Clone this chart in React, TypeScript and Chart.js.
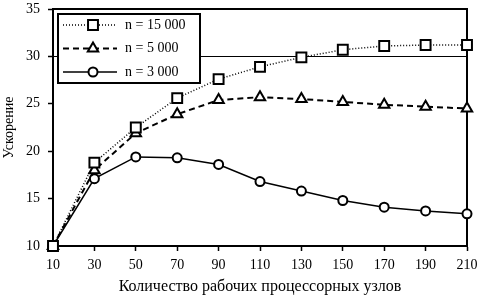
import React, { useEffect, useRef } from "react";
import { Chart, registerables } from "chart.js";

Chart.register(...registerables);

const categories = [10, 30, 50, 70, 90, 110, 130, 150, 170, 190, 210];
const series15000 = [10, 18.8, 22.5, 25.6, 27.6, 28.9, 29.9, 30.7, 31.1, 31.2, 31.2];
const series5000 = [10, 18.0, 21.9, 23.9, 25.4, 25.7, 25.5, 25.2, 24.9, 24.7, 24.5];
const series3000 = [10, 17.1, 19.4, 19.3, 18.6, 16.8, 15.8, 14.8, 14.1, 13.7, 13.4];
const seriesLabels = ["n = 15 000", "n = 5 000", "n = 3 000"];
const yTicks = [10, 15, 20, 25, 30, 35];
const xTitle = "Количество рабочих процессорных узлов";
const yTitle = "Ускорение";

const FONT = "'Liberation Serif', serif";

function drawMarker(ctx: CanvasRenderingContext2D, style: string, r: number, x: number, y: number) {
  ctx.beginPath();
  if (style === "rect") {
    const s = Math.SQRT1_2 * r;
    ctx.rect(x - s, y - s, 2 * s, 2 * s);
  } else if (style === "triangle") {
    const h = r * 1.5;
    const w = r * Math.sqrt(3) / 2;
    ctx.moveTo(x, y - r);
    ctx.lineTo(x + w, y + r / 2);
    ctx.lineTo(x - w, y + r / 2);
    ctx.closePath();
    void h;
  } else {
    ctx.arc(x, y, r, 0, Math.PI * 2);
  }
  ctx.fill();
  ctx.stroke();
}

export default function App() {
  const ref = useRef<HTMLCanvasElement | null>(null);

  useEffect(() => {
    document.body.style.margin = "0";
    const canvas = ref.current;
    if (!canvas) return;

    const styles = [
      { dash: [1, 2], width: 1.5, point: "rect", radius: 7 },
      { dash: [6, 4], width: 2, point: "triangle", radius: 6 },
      { dash: [], width: 1.5, point: "circle", radius: 4.5 },
    ];

    const framePlugin = {
      id: "frame",
      beforeDatasetsDraw(chart: any) {
        const { ctx, chartArea: a } = chart;
        ctx.save();
        ctx.strokeStyle = "#000";
        ctx.lineWidth = 2;
        ctx.strokeRect(a.left, a.top, a.right - a.left, a.bottom - a.top);
        ctx.restore();
      },
    };

    const legendPlugin = {
      id: "customLegend",
      afterDraw(chart: any) {
        const { ctx } = chart;
        const bx = 58, by = 14, bw = 142, bh = 69;
        ctx.save();
        ctx.fillStyle = "#fff";
        ctx.fillRect(bx, by, bw, bh);
        ctx.strokeStyle = "#000";
        ctx.lineWidth = 2;
        ctx.strokeRect(bx, by, bw, bh);
        const rows = [25, 48.5, 72];
        seriesLabels.forEach((label, i) => {
          const s = styles[i];
          const y = rows[i];
          ctx.save();
          ctx.strokeStyle = "#000";
          ctx.lineWidth = s.width;
          ctx.setLineDash(s.dash);
          ctx.beginPath();
          ctx.moveTo(63, y);
          ctx.lineTo(117, y);
          ctx.stroke();
          ctx.restore();
          ctx.save();
          ctx.fillStyle = "#fff";
          ctx.strokeStyle = "#000";
          ctx.lineWidth = 2;
          ctx.setLineDash([]);
          drawMarker(ctx, s.point, s.radius, 93, y);
          ctx.restore();
          ctx.fillStyle = "#000";
          ctx.font = `14px ${FONT}`;
          ctx.textBaseline = "middle";
          ctx.textAlign = "left";
          ctx.fillText(label, 125, y);
        });
        ctx.restore();
      },
    };

    const data = [series15000, series5000, series3000];

    const chart = new Chart(canvas, {
      type: "line",
      data: {
        labels: categories.map(String),
        datasets: data.map((d, i) => ({
          label: seriesLabels[i],
          data: d,
          borderColor: "#000",
          backgroundColor: "#fff",
          borderWidth: styles[i].width,
          borderDash: styles[i].dash,
          pointStyle: styles[i].point as any,
          pointRadius: styles[i].radius,
          pointBorderWidth: 2,
          pointBackgroundColor: "#fff",
          pointBorderColor: "#000",
          tension: 0,
          fill: false,
          clip: false as any,
        })),
      },
      options: {
        animation: false,
        responsive: true,
        maintainAspectRatio: false,
        layout: { padding: { top: 7, right: 12, left: 0, bottom: 0 } },
        plugins: { legend: { display: false }, tooltip: { enabled: false } },
        scales: {
          x: {
            type: "category",
            offset: false,
            afterFit(scale: any) {
              scale.height = 50;
              scale.paddingLeft = 0;
              scale.paddingRight = 0;
            },
            grid: {
              color: "transparent",
              tickColor: "#000",
              tickLength: 5,
              tickWidth: 1.5,
              drawOnChartArea: false,
            },
            border: { color: "#000", width: 2 },
            ticks: {
              color: "#000",
              font: { family: FONT, size: 14 },
              padding: 6,
              maxRotation: 0,
              autoSkip: false,
            },
            title: {
              display: true,
              text: xTitle,
              color: "#000",
              font: { family: FONT, size: 16 },
              padding: { top: 0, bottom: 0 },
            },
          },
          y: {
            min: 10,
            max: 35,
            afterFit(scale: any) {
              scale.width = 53;
              scale.paddingTop = 0;
              scale.paddingBottom = 0;
            },
            afterBuildTicks(scale: any) {
              scale.ticks = yTicks.map((v) => ({ value: v }));
            },
            grid: {
              color: (c: any) => (c.tick && c.tick.value === 30 ? "#000" : "transparent"),
              lineWidth: 1,
              tickColor: "#000",
              tickLength: 5,
              tickWidth: 1.5,
            },
            border: { color: "#000", width: 2 },
            ticks: {
              color: "#000",
              font: { family: FONT, size: 14 },
              padding: 8,
            },
            title: {
              display: true,
              text: yTitle,
              color: "#000",
              font: { family: FONT, size: 14 },
              padding: { top: 1, bottom: 1 },
            },
          },
        },
      },
      plugins: [framePlugin, legendPlugin],
    });

    return () => chart.destroy();
  }, []);

  return (
    <div style={{ width: 479, height: 296, position: "relative" }}>
      <canvas ref={ref} />
    </div>
  );
}
